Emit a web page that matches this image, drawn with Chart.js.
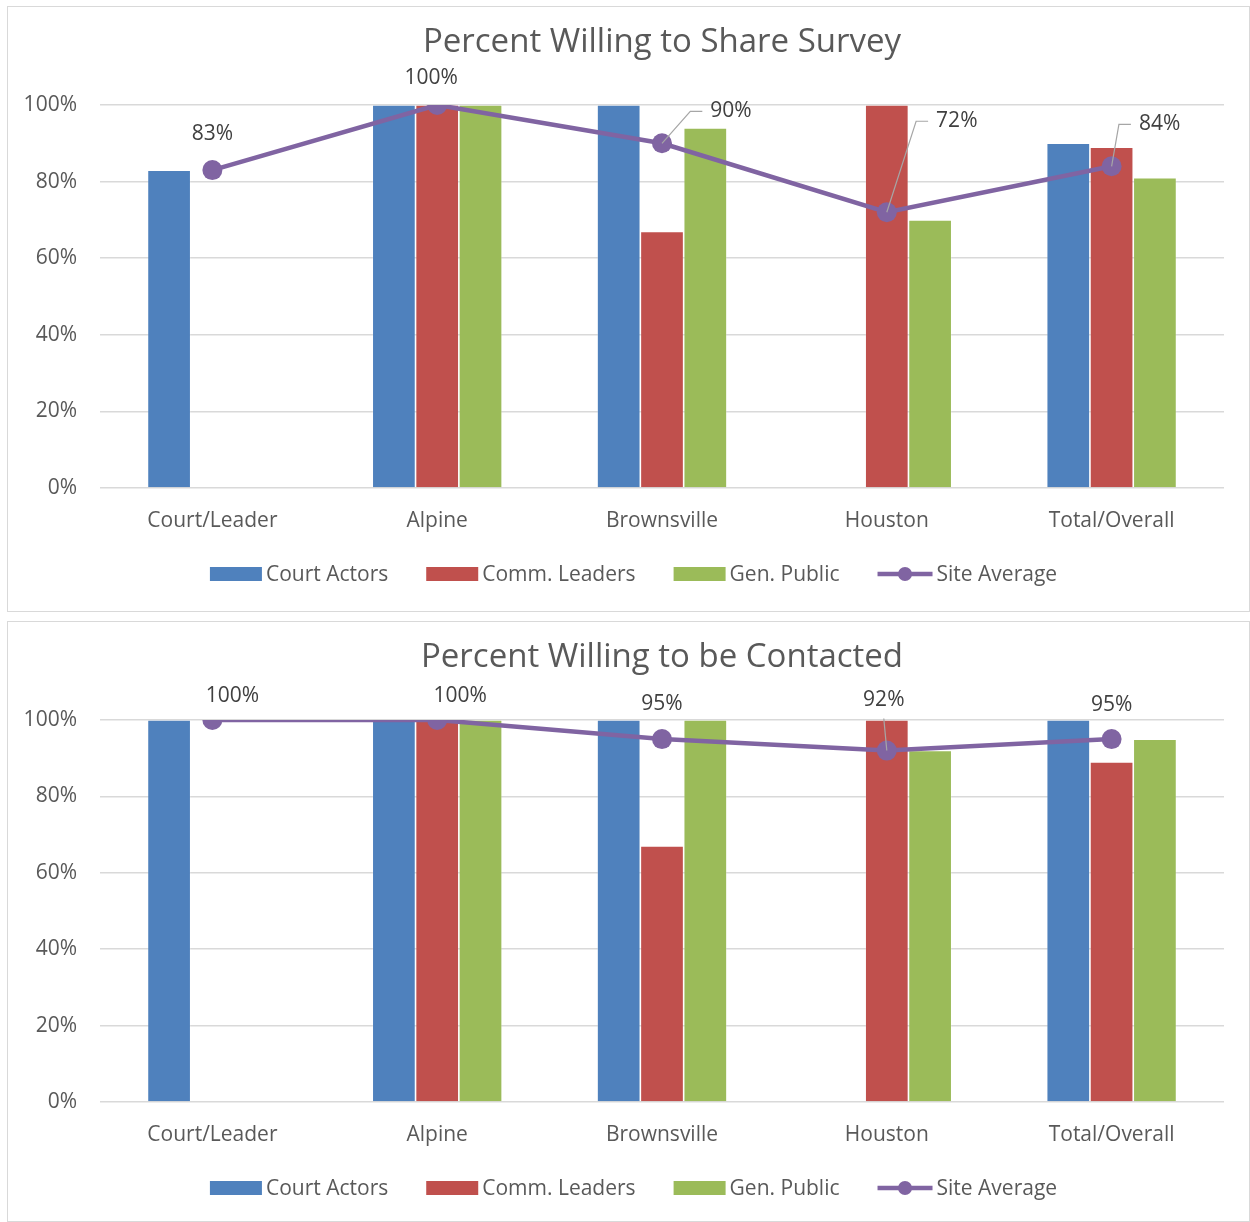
<!DOCTYPE html>
<html>
<head>
<meta charset="utf-8">
<script src="https://cdn.jsdelivr.net/npm/chart.js@4.4.0/dist/chart.umd.min.js"></script>
<style>
  html, body { margin:0; padding:0; background:#fff; }
  .box { position:absolute; left:7px; width:1241px; border:1px solid #d9d9d9; }
  #box1 { top:6px; height:604px; }
  #box2 { top:621px; height:599px; }
</style>
</head>
<body>
<div class="box" id="box1"><canvas id="chart1"></canvas></div>
<div class="box" id="box2"><canvas id="chart2"></canvas></div>
<script>
// ── data
const CATEGORIES   = ['Court/Leader', 'Alpine', 'Brownsville', 'Houston', 'Total/Overall'];
const SERIES_NAMES = ['Court Actors', 'Comm. Leaders', 'Gen. Public', 'Site Average'];
const Y_TICKS      = [0, 20, 40, 60, 80, 100];

const SHARE_COURT  = [83, 100, 100, null, 90];
const SHARE_COMM   = [null, 100, 67, 100, 89];
const SHARE_PUBLIC = [null, 100, 94, 70, 81];
const SHARE_AVG    = [83, 100, 90, 72, 84];

const CONTACT_COURT  = [100, 100, 100, null, 100];
const CONTACT_COMM   = [null, 100, 67, 100, 89];
const CONTACT_PUBLIC = [null, 100, 100, 92, 95];
const CONTACT_AVG    = [100, 100, 95, 92, 95];

// ── styles
const COLORS = ['#4F81BD', '#C0504D', '#9BBB59', '#8064A2'];
const FONT = "'Open Sans', 'Noto Sans', sans-serif";

// label placement relative to each average point
const SHARE_LABEL_POS = [
    { dx: 0,  dy: -36 },
    { dx: -6, dy: -27 },
    { dx: 69, dy: -32, leader: 'elbow' },
    { dx: 70, dy: -91, leader: 'elbow' },
    { dx: 48, dy: -42, leader: 'elbow' }
];
const CONTACT_LABEL_POS = [
    { dx: 20, dy: -24 },
    { dx: 23, dy: -24 },
    { dx: 0,  dy: -35 },
    { dx: -3, dy: -51, leader: 'straight' },
    { dx: 0,  dy: -34 }
];

// title centred over the plot area, like the original
const plotTitle = {
    id: 'plotTitle',
    afterDraw(chart, args, opts) {
        var ctx = chart.ctx, a = chart.chartArea;
        ctx.save();
        ctx.font = '33px ' + FONT;
        ctx.fillStyle = '#595959';
        ctx.textAlign = 'center';
        ctx.textBaseline = 'middle';
        ctx.fillText(opts.text, (a.left + a.right) / 2, 36);
        ctx.restore();
    }
};

const avgLabels = {
    id: 'avgLabels',
    afterDatasetsDraw(chart, args, opts) {
        var ctx = chart.ctx;
        var meta = chart.getDatasetMeta(3);
        var vals = chart.data.datasets[3].data;
        ctx.save();
        ctx.font = '21px ' + FONT;
        ctx.textAlign = 'center';
        ctx.textBaseline = 'middle';
        meta.data.forEach(function(pt, i) {
            var p = opts.pos[i];
            var tx = pt.x + p.dx, ty = pt.y + p.dy;
            var txt = vals[i] + '%';
            var w = ctx.measureText(txt).width;
            ctx.strokeStyle = '#a6a6a6';
            ctx.lineWidth = 1.2;
            if (p.leader === 'elbow') {
                var left = tx - w / 2;
                ctx.beginPath();
                ctx.moveTo(pt.x, pt.y);
                ctx.lineTo(left - 20, ty);
                ctx.lineTo(left - 8, ty);
                ctx.stroke();
            } else if (p.leader === 'straight') {
                ctx.beginPath();
                ctx.moveTo(pt.x, pt.y);
                ctx.lineTo(tx, ty + 19);
                ctx.stroke();
            }
            ctx.fillStyle = '#404040';
            ctx.fillText(txt, tx, ty);
        });
        ctx.restore();
    }
};

const customLegend = {
    id: 'customLegend',
    afterDraw(chart) {
        var ctx = chart.ctx;
        ctx.save();
        ctx.font = '21px ' + FONT;
        ctx.textBaseline = 'middle';
        var y = chart.chartArea.bottom + 86;
        var markW = [52, 52, 52, 55];
        var widths = SERIES_NAMES.map(function(n, i) { return markW[i] + 4 + ctx.measureText(n).width; });
        var total = widths.reduce(function(a, b) { return a + b; }, 0) + 38 * 3;
        var x = chart.width / 2 + 5 - total / 2;
        SERIES_NAMES.forEach(function(n, i) {
            if (i < 3) {
                ctx.fillStyle = COLORS[i];
                ctx.fillRect(x, y - 7, markW[i], 14);
            } else {
                ctx.strokeStyle = COLORS[3];
                ctx.lineWidth = 4.5;
                ctx.beginPath();
                ctx.moveTo(x, y); ctx.lineTo(x + markW[i], y);
                ctx.stroke();
                ctx.fillStyle = COLORS[3];
                ctx.beginPath();
                ctx.arc(x + markW[i] / 2, y, 7, 0, Math.PI * 2);
                ctx.fill();
            }
            ctx.fillStyle = '#595959';
            ctx.fillText(n, x + markW[i] + 4, y + 1);
            x += widths[i] + 38;
        });
        ctx.restore();
    }
};

function makeChart(canvasId, title, court, comm, pub, avg, labelPos, bottomPad) {
    var barBase = { type: 'bar', order: 1, borderColor: 'rgba(255,255,255,0.3)', borderWidth: 0.8,
                    barPercentage: 1, categoryPercentage: 0.578 };
    new Chart(document.getElementById(canvasId), {
        type: 'bar',
        data: {
            labels: CATEGORIES,
            datasets: [
                Object.assign({ label: SERIES_NAMES[0], data: court, backgroundColor: COLORS[0] }, barBase),
                Object.assign({ label: SERIES_NAMES[1], data: comm,  backgroundColor: COLORS[1] }, barBase),
                Object.assign({ label: SERIES_NAMES[2], data: pub,   backgroundColor: COLORS[2] }, barBase),
                { type: 'line', order: 0, label: SERIES_NAMES[3], data: avg,
                  borderColor: COLORS[3], backgroundColor: COLORS[3], borderWidth: 4.5,
                  pointRadius: 10, pointBorderWidth: 0, pointBackgroundColor: COLORS[3], tension: 0 }
            ]
        },
        options: {
            responsive: true,
            maintainAspectRatio: false,
            animation: false,
            layout: { padding: { left: 0, right: 25, top: 98, bottom: bottomPad } },
            plugins: {
                legend: { display: false },
                tooltip: { enabled: false },
                title: { display: false },
                plotTitle: { text: title },
                avgLabels: { pos: labelPos }
            },
            scales: {
                x: {
                    grid: { display: false }, border: { display: false },
                    ticks: { color: '#595959', font: { family: FONT, size: 21 }, padding: 12 },
                    afterFit: function(s) { s.height = 50; }
                },
                y: {
                    min: 0, max: 100,
                    grid: { color: '#d9d9d9', lineWidth: 1.5, drawTicks: false },
                    border: { display: false },
                    afterBuildTicks: function(s) { s.ticks = Y_TICKS.map(function(v) { return { value: v }; }); },
                    ticks: { color: '#595959', font: { family: FONT, size: 21 }, padding: 23,
                             callback: function(v) { return v + '%'; } },
                    afterFit: function(s) { s.width = 92; }
                }
            }
        },
        plugins: [plotTitle, avgLabels, customLegend]
    });
}

makeChart('chart1', 'Percent Willing to Share Survey',
          SHARE_COURT, SHARE_COMM, SHARE_PUBLIC, SHARE_AVG, SHARE_LABEL_POS, 73);
makeChart('chart2', 'Percent Willing to be Contacted',
          CONTACT_COURT, CONTACT_COMM, CONTACT_PUBLIC, CONTACT_AVG, CONTACT_LABEL_POS, 69);
</script>
</body>
</html>
